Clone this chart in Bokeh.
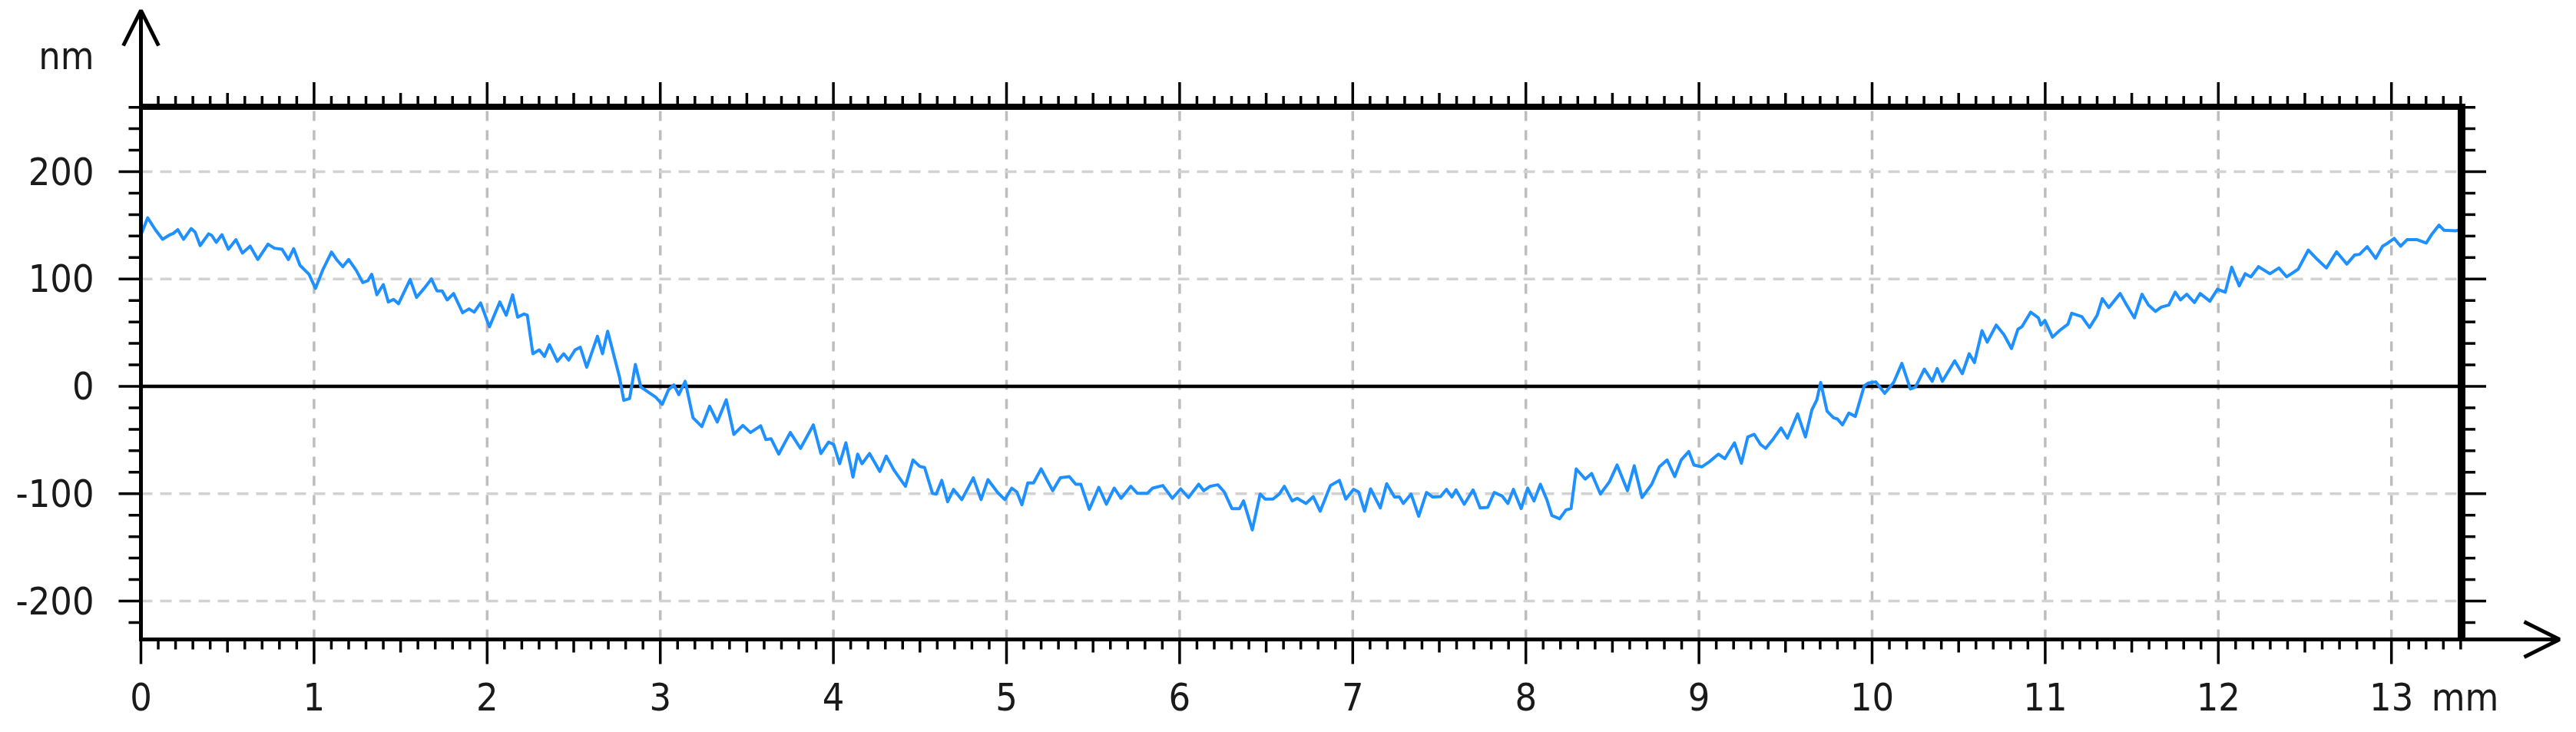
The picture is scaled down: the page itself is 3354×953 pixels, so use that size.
from bokeh.plotting import figure
from bokeh.models import Range1d, LinearAxis, FixedTicker, Arrow, OpenHead, CustomJSTickFormatter
from bokeh.embed import file_html
from bokeh.resources import INLINE

# ---- data: surface profile (x in mm, height in nm) ----
x_mm = [
    0.000, 0.039, 0.083, 0.125, 0.165, 0.187, 0.213, 0.246, 0.290, 0.313, 0.342, 0.391, 0.409, 0.435,
    0.468, 0.505, 0.549, 0.586, 0.631, 0.675, 0.734, 0.771, 0.815, 0.852, 0.882, 0.919, 0.971, 1.008,
    1.052, 1.101, 1.133, 1.166, 1.200, 1.244, 1.281, 1.311, 1.333, 1.363, 1.400, 1.429, 1.459, 1.488,
    1.555, 1.592, 1.636, 1.678, 1.710, 1.740, 1.769, 1.806, 1.858, 1.895, 1.925, 1.962, 2.013, 2.073,
    2.110, 2.147, 2.176, 2.213,
    2.232, 2.264, 2.301, 2.331, 2.360, 2.405, 2.442, 2.471, 2.508, 2.538, 2.575, 2.637, 2.666, 2.696,
    2.737, 2.764, 2.789, 2.823, 2.856, 2.888, 2.930, 2.974, 3.011, 3.048, 3.078, 3.107, 3.144, 3.189,
    3.240, 3.285, 3.329, 3.381, 3.425, 3.477, 3.521, 3.580, 3.610, 3.640, 3.684, 3.751, 3.810, 3.884,
    3.928, 3.972, 4.002, 4.036, 4.072, 4.113, 4.140, 4.165, 4.209, 4.268, 4.305, 4.350, 4.416, 4.460,
    4.498, 4.527, 4.572, 4.594, 4.626, 4.660, 4.694, 4.742, 4.808, 4.853, 4.893, 4.949, 4.990, 5.030,
    5.060, 5.089, 5.123, 5.156, 5.200, 5.267, 5.311, 5.363, 5.400, 5.429, 5.478, 5.533, 5.577, 5.622,
    5.662, 5.718, 5.755, 5.814, 5.844, 5.903, 5.958, 6.006, 6.051, 6.110, 6.139, 6.176, 6.221, 6.258,
    6.302, 6.346, 6.369, 6.420, 6.465, 6.494, 6.539, 6.576, 6.605, 6.650, 6.679,
    6.730, 6.772, 6.812, 6.871, 6.923, 6.960, 7.004, 7.034, 7.068, 7.103, 7.159, 7.196, 7.241, 7.270,
    7.292, 7.337, 7.381, 7.426, 7.462, 7.507, 7.541, 7.573, 7.596, 7.644, 7.695, 7.736, 7.780, 7.817,
    7.862, 7.896, 7.928, 7.973, 8.010, 8.047, 8.084, 8.121, 8.150, 8.195, 8.232, 8.261, 8.291, 8.343,
    8.380, 8.431, 8.483, 8.527, 8.587, 8.626, 8.671, 8.727, 8.771, 8.816, 8.860, 8.897, 8.941,
    8.971, 9.016, 9.060, 9.112, 9.149, 9.205, 9.245, 9.282, 9.319, 9.356, 9.385, 9.430, 9.474, 9.511,
    9.570, 9.615, 9.652, 9.681, 9.703, 9.740, 9.777, 9.800, 9.829, 9.866, 9.903, 9.955, 9.977, 10.021,
    10.073, 10.125, 10.172, 10.221, 10.251, 10.302, 10.347, 10.376, 10.406, 10.477, 10.521, 10.561,
    10.591, 10.635, 10.665, 10.717, 10.761, 10.805, 10.842, 10.865, 10.916, 10.961, 10.975, 10.998,
    11.042, 11.086, 11.131, 11.153,
    11.211, 11.256, 11.300, 11.330, 11.367, 11.433, 11.470, 11.515, 11.559, 11.596, 11.637, 11.670,
    11.714, 11.751, 11.781, 11.818, 11.862, 11.895, 11.951, 11.995, 12.040, 12.077, 12.121, 12.155,
    12.188, 12.232, 12.298, 12.350, 12.395, 12.461, 12.520, 12.572, 12.624, 12.683, 12.742, 12.787,
    12.816, 12.860, 12.909, 12.949, 12.979, 13.016, 13.053, 13.090, 13.149, 13.201, 13.235, 13.275,
    13.304, 13.371, 13.422,
]
height_nm = [
    141, 157, 146, 137, 141, 142.5, 146, 137, 147, 143.7, 131.1, 142.1, 140.6, 134.2,
    141.3, 127.7, 136.6, 124.2, 130.6, 118.2, 132.5, 128.7, 127.7, 118.2, 128.2, 112.7, 104.4, 91.3,
    109.1, 125.1, 117.5, 111.5, 118.2, 108.0, 96.7, 98.4, 104.4, 85.3, 94.8, 78.6, 81.0, 77.0,
    99.6, 82.9, 91.3, 100.1, 88.9, 88.9, 80.5, 86.5, 68.6, 72.2, 69.1, 77.7, 55.5, 78.6,
    66.2, 85.3, 64.5, 67.4,
    66.2, 30.4, 34.0, 28.0, 38.8, 23.3, 30.4, 24.5, 34.0, 36.4, 17.8, 46.6, 30.4, 51.4,
    25.7, 9.0, -13.0, -11.3, 20.4, -0.6, -5.3, -10.1, -16.8, -3.0, 1.3, -7.7, 4.7, -29.2,
    -37.5, -18.5, -33.2, -12.5, -44.7, -36.4, -43.0, -36.8, -49.5, -48.8, -63.1, -43.0, -57.8, -35.9,
    -62.6, -51.9, -54.2, -72.1, -52.6, -84.5, -63.1, -72.1, -62.6, -79.3, -65.0, -78.1, -93.1, -68.6,
    -74.5, -75.7, -99.6, -100.3, -87.6, -107.4, -96.0, -105.5, -85.2, -105.5, -86.9, -98.9, -105.5, -94.8,
    -98.4, -110.3, -90.0, -90.0, -76.9, -97.2, -85.2, -84.1, -91.2, -91.2, -114.6, -94.1, -109.8, -94.8,
    -104.3, -93.1, -99.6, -99.6, -94.8, -92.4, -104.3, -95.5, -103.6, -91.2, -97.2, -93.1, -91.7, -98.4,
    -113.9, -113.9, -106.7, -133.7, -100.3, -105.0, -105.0, -100.3, -93.1, -106.7, -104.3,
    -109.1, -102.7, -116.3, -92.4, -87.6, -105.0, -96.0, -98.4, -116.3, -95.5, -113.2, -90.7, -103.1, -103.1,
    -109.1, -100.3, -121.0, -98.9, -103.1, -102.7, -96.0, -103.1, -96.5, -109.8, -96.5, -113.2, -112.7, -98.9,
    -102.0, -109.1, -96.0, -113.9, -94.8, -106.7, -91.2, -105.5, -120.3, -123.4, -115.1, -113.9, -76.9, -86.4,
    -81.2, -100.3, -88.8, -73.3, -97.2, -74.0, -103.6, -91.2, -75.0, -68.6, -84.1, -68.6, -60.7,
    -73.3, -75.0, -70.2, -63.1, -67.4, -52.6, -71.6, -47.1, -44.7, -54.2, -57.8, -48.8, -38.7, -48.3,
    -25.6, -47.1, -22.0, -12.5, 3.7, -23.2, -29.2, -30.4, -35.9, -24.9, -28.0, 0.6, 3.0, 4.2,
    -6.5, 3.7, 21.4, -2.5, -0.6, 16.1, 4.7, 16.6, 4.7, 23.8, 11.8, 30.4,
    22.1, 51.9, 41.2, 57.1, 48.3, 35.2, 53.1, 55.5, 69.1, 63.8, 57.1, 61.4,
    45.9, 52.4, 57.9, 68.1,
    65.0, 54.8, 66.2, 81.7, 73.4, 86.5, 75.8, 63.8, 85.8, 75.8, 69.8, 73.8,
    75.8, 87.7, 80.5, 85.8, 78.1, 86.5, 79.3, 90.5, 87.7, 111.0, 93.6, 104.9,
    102.0, 111.5, 104.9, 110.3, 102.0, 109.1, 127.0, 118.2, 110.3, 125.4, 113.9, 122.3,
    123.0, 130.1, 119.2, 130.6, 133.5, 137.8, 130.6, 136.6, 136.6, 133.5, 142.1, 150.2,
    145.4, 144.9, 146.8,
]

x_major = list(range(0, 14))
x_minor = [round(i * 0.1, 1) for i in range(0, 135)]
x_grid = list(range(1, 14))
y_major = [-200, -100, 0, 100, 200]
y_minor = list(range(-220, 261, 20))
y_grid = [-200, -100, 100, 200]
x_unit = "mm"
y_unit = "nm"
X_UNIT_POS = 13.425     # where the "mm" label sits on the x scale
Y_UNIT_POS = 308        # where the "nm" label sits on the y scale

# ---- geometry (pixels) ----
W, H = 3354, 953
FL, FR, FT, FB = 150, 3346, 4, 872          # plotting frame (room for arrows and ticks)
OX, OY = 183.0, 502.5                       # pixel position of x=0 and y=0
KX, KY = 225.4, 1.3975                      # px per mm, px per nm
XB0, XB1 = 0.0, 13.405                      # boxed data window
YB0, YB1 = -235.8, 260.5
XA = (3332 - OX) / KX                       # x-axis arrow tip
YA = (OY - 13) / KY                         # y-axis arrow tip

FONT = "DejaVu Sans Condensed"
FS = "50px"
TXT = "#1a1a1a"
TW = 3.5                                    # tick line width

p = figure(width=W, height=H, output_backend="svg", toolbar_location=None, title=None,
           x_range=Range1d((FL - OX) / KX, (FR - OX) / KX),
           y_range=Range1d((OY - FB) / KY, (OY - FT) / KY),
           min_border_left=FL, min_border_right=W - FR, min_border_top=FT, min_border_bottom=H - FB)
p.outline_line_color = None
p.background_fill_color = "white"
p.border_fill_color = "white"
p.xgrid.visible = False
p.ygrid.visible = False

def label_axis(ax, standoff):
    ax.axis_line_color = None
    ax.major_tick_line_color = None
    ax.minor_tick_line_color = None
    ax.major_tick_in = 0
    ax.major_tick_out = 0
    ax.minor_tick_in = 0
    ax.minor_tick_out = 0
    ax.formatter = CustomJSTickFormatter(code="return String(tick)")
    ax.major_label_text_font = FONT
    ax.major_label_text_font_size = FS
    ax.major_label_text_color = TXT
    ax.major_label_standoff = standoff

bottom = p.below[0]
bottom.ticker = FixedTicker(ticks=x_major + [X_UNIT_POS], minor_ticks=[])
label_axis(bottom, 6)
bottom.major_label_overrides = {X_UNIT_POS: x_unit}

left = p.left[0]
left.ticker = FixedTicker(ticks=y_major + [Y_UNIT_POS], minor_ticks=[])
label_axis(left, 28)
left.major_label_overrides = {Y_UNIT_POS: y_unit}

# dashed grid inside the box
p.segment(x0=x_grid, y0=[YB0] * len(x_grid), x1=x_grid, y1=[YB1] * len(x_grid),
          line_color="#bdbdbd", line_width=3.5, line_dash="13 12")
p.segment(x0=[XB0] * len(y_grid), y0=y_grid, x1=[XB1] * len(y_grid), y1=y_grid,
          line_color="#d2d2d2", line_width=3.5, line_dash="15 10")

# zero line
p.segment(x0=[XB0], y0=[0], x1=[XB1], y1=[0], line_color="black", line_width=4.5)

# profile
p.line(x_mm, height_nm, line_color="#1e90ff", line_width=4, line_join="round")

def xlen(t):  # tick length class along x: major / half / minor
    if abs(t - round(t)) < 1e-6:
        return 32
    if abs(t * 2 - round(t * 2)) < 1e-6:
        return 17
    return 13

# bottom axis line (with arrow shaft) and downward ticks
p.segment(x0=[XB0 - 2.5 / KX], y0=[YB0], x1=[XA], y1=[YB0], line_color="black", line_width=5)
b_len = [xlen(t) for t in x_minor]
p.segment(x0=x_minor, y0=[YB0] * len(x_minor), x1=x_minor, y1=[YB0 - L / KY for L in b_len],
          line_color="black", line_width=TW)

# left axis line (with arrow shaft) and leftward ticks
p.segment(x0=[XB0], y0=[YB0 - 2.5 / KY], x1=[XB0], y1=[YA], line_color="black", line_width=5)
l_ticks = [t for t in y_minor if YB0 <= t <= YB1]
l_len = [29 if t in y_major else 16 for t in l_ticks]
p.segment(x0=[XB0] * len(l_ticks), y0=l_ticks, x1=[XB0 - L / KX for L in l_len], y1=l_ticks,
          line_color="black", line_width=TW)

# top edge of the box (thick) with upward ticks
p.segment(x0=[XB0], y0=[YB1], x1=[XB1 + 5 / KX], y1=[YB1], line_color="black", line_width=8)
t_len = [32 if xlen(t) == 32 else (18 if xlen(t) == 17 else 14) for t in x_minor]
p.segment(x0=x_minor, y0=[YB1] * len(x_minor), x1=x_minor, y1=[YB1 + L / KY for L in t_len],
          line_color="black", line_width=TW)

# right edge of the box (thick) with outward ticks
p.segment(x0=[XB1], y0=[YB0], x1=[XB1], y1=[YB1 + 4 / KY], line_color="black", line_width=10)
r_len = [32 if t in y_major else 18 for t in l_ticks]
p.segment(x0=[XB1] * len(l_ticks), y0=l_ticks, x1=[XB1 + L / KX for L in r_len], y1=l_ticks,
          line_color="black", line_width=TW)

# arrow heads at the ends of the axis shafts
p.add_layout(Arrow(x_start=XB0, y_start=YB1, x_end=XB0, y_end=YA, line_width=5, line_color="black",
                   end=OpenHead(size=46, line_width=5, line_color="black")))
p.add_layout(Arrow(x_start=XB1, y_start=YB0, x_end=XA, y_end=YB0, line_width=5, line_color="black",
                   end=OpenHead(size=46, line_width=5, line_color="black")))

open("out.html", "w").write(file_html(p, INLINE))
